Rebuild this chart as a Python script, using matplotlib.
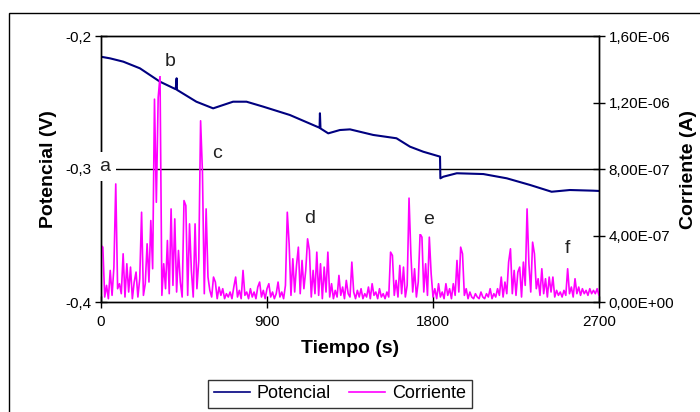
import matplotlib
matplotlib.use("Agg")
import matplotlib.pyplot as plt
from matplotlib.patches import Rectangle
from matplotlib.ticker import FixedLocator, FixedFormatter
from matplotlib.lines import Line2D

plt.rcParams['font.family'] = ['Liberation Sans', 'DejaVu Sans']

# Potential vs time (s, V)
pot_t = [0, 49, 121, 211, 319, 405, 410, 412, 517, 608, 716, 789, 879, 1024,
         1185, 1187, 1190, 1232, 1295, 1350, 1476, 1602, 1675, 1747, 1838,
         1840, 1856, 1929, 2073, 2200, 2326, 2443, 2542, 2669, 2700]
pot_v = [-0.2156, -0.2168, -0.2193, -0.2243, -0.2343, -0.2400, -0.2318, -0.2405,
         -0.2494, -0.2544, -0.2494, -0.2494, -0.2531, -0.2594,
         -0.2690, -0.2581, -0.2695, -0.2732, -0.2707, -0.2702, -0.2744, -0.2769,
         -0.2832, -0.2870, -0.2907,
         -0.3070, -0.3058, -0.3032, -0.3038, -0.3070, -0.3120, -0.3171, -0.3158,
         -0.3163, -0.3165]

# Current sampled every 10 s from 0 to 2700 s (units of 1e-7 A)
cur_step = 10
cur_e7 = [
    3.4, 3.3, 0.3, 1.0, 0.2, 1.9, 0.4, 2.1, 7.1, 0.8,
    1.1, 0.5, 2.9, 0.3, 2.3, 0.6, 2.1, 0.2, 1.2, 1.8,
    0.3, 1.4, 5.4, 0.4, 1.1, 3.5, 1.2, 4.9, 2.0, 12.2,
    6.0, 12.3, 13.6, 0.4, 2.3, 0.8, 3.7, 0.5, 5.6, 1.0,
    5.0, 0.6, 3.1, 1.2, 0.3, 6.1, 5.8, 0.4, 4.7, 1.9,
    0.3, 4.7, 0.8, 2.5, 10.9, 7.8, 0.5, 5.6, 1.5, 0.7,
    0.3, 1.5, 1.2, 0.2, 0.9, 0.4, 0.8, 0.2, 0.5, 0.3,
    0.6, 0.2, 0.9, 1.5, 0.3, 0.7, 0.2, 1.9, 0.4, 0.6,
    0.2, 0.8, 0.3, 0.6, 0.2, 0.9, 1.2, 0.3, 0.7, 0.2,
    0.8, 1.1, 0.3, 0.6, 0.2, 0.5, 1.2, 0.3, 0.6, 0.2,
    1.0, 5.4, 3.5, 0.4, 2.6, 0.6, 2.2, 3.3, 0.5, 2.5,
    0.8, 1.9, 3.8, 3.1, 0.3, 1.9, 0.5, 3.0, 0.4, 2.3,
    0.2, 2.1, 0.6, 3.0, 0.3, 1.1, 0.2, 0.7, 0.3, 1.6,
    0.4, 0.9, 0.2, 1.3, 0.5, 0.3, 2.4, 0.6, 0.2, 0.7,
    0.3, 0.8, 0.2, 0.5, 0.3, 0.9, 0.2, 1.1, 0.4, 0.6,
    0.2, 0.8, 0.3, 0.5, 0.2, 0.6, 0.3, 3.0, 2.8, 0.4,
    1.3, 0.3, 2.2, 0.5, 2.1, 0.3, 1.0, 6.25, 2.9, 0.6,
    2.0, 0.3, 1.2, 4.1, 3.9, 0.6, 2.3, 0.4, 3.9, 1.7,
    0.3, 0.8, 0.2, 1.1, 0.3, 0.6, 0.2, 1.1, 0.4, 0.8,
    0.2, 1.1, 0.4, 2.5, 0.6, 3.3, 2.9, 0.4, 0.8, 0.2,
    0.6, 0.3, 0.2, 0.5, 0.3, 0.2, 0.6, 0.3, 0.2, 0.5,
    0.3, 0.8, 0.2, 0.5, 0.3, 0.8, 0.4, 1.5, 0.3, 1.2,
    0.5, 2.4, 3.2, 0.5, 1.9, 0.4, 1.8, 2.1, 0.3, 2.4,
    1.0, 5.6, 2.3, 0.6, 3.6, 2.9, 0.8, 1.4, 0.4, 2.0,
    0.5, 1.4, 0.3, 1.5, 0.6, 1.5, 0.3, 0.7, 0.4, 0.6,
    0.3, 0.7, 0.4, 2.0, 0.5, 0.9, 0.3, 1.4, 0.5, 0.9,
    0.4, 0.8, 0.5, 0.7, 0.4, 0.8, 0.5, 0.7, 0.5, 0.8,
    0.4,
]
cur_t = [i * cur_step for i in range(len(cur_e7))]
cur_a = [v * 1e-7 for v in cur_e7]

# Axis ticks and labels
x_ticks = [0, 900, 1800, 2700]
x_labels = ['0', '900', '1800', '2700']
v_ticks = [-0.4, -0.3, -0.2]
v_labels = ['-0,4', '-0,3', '-0,2']
i_ticks = [0, 4e-7, 8e-7, 1.2e-6, 1.6e-6]
i_labels = ['0,00E+00', '4,00E-07', '8,00E-07', '1,20E-06', '1,60E-06']

# Event markers (time, potential)
mark_names = ['a', 'b', 'c', 'd', 'e', 'f']
mark_t = [22, 374, 627, 1133, 1775, 2528]
mark_v = [-0.2983, -0.2193, -0.2882, -0.3371, -0.3383, -0.3596]

NAVY = '#000080'
MAGENTA = '#FF00FF'

fig = plt.figure(figsize=(7.0, 4.12), dpi=100)
fig.patches.append(Rectangle((9 / 700, -0.05), 1.1, 1 - 13 / 412 + 0.05,
                             transform=fig.transFigure, fill=False,
                             edgecolor='black', linewidth=1.0))

ax = fig.add_axes([101 / 700, 1 - 302 / 412, 498 / 700, 266 / 412])
ax.set_xlim(0, 2700)
ax.set_ylim(-0.4, -0.2)
ax.axhline(-0.3, color='black', linewidth=1.0, zorder=1)
ax.plot(pot_t, pot_v, color=NAVY, linewidth=1.5, zorder=2)

ax2 = ax.twinx()
ax2.set_ylim(0, 1.6e-6)
ax2.plot(cur_t, cur_a, color=MAGENTA, linewidth=1.2, zorder=2)

for s in list(ax.spines.values()) + list(ax2.spines.values()):
    s.set_linewidth(1.0)
    s.set_color('black')

ax.xaxis.set_major_locator(FixedLocator(x_ticks))
ax.xaxis.set_major_formatter(FixedFormatter(x_labels))
ax.yaxis.set_major_locator(FixedLocator(v_ticks))
ax.yaxis.set_major_formatter(FixedFormatter(v_labels))
ax2.yaxis.set_major_locator(FixedLocator(i_ticks))
ax2.yaxis.set_major_formatter(FixedFormatter(i_labels))

ax.tick_params(axis='both', direction='inout', length=8, width=1.0,
               labelsize=11, pad=3)
ax2.tick_params(axis='y', direction='inout', length=8, width=1.0,
                labelsize=11, pad=3)
ax.tick_params(axis='x', pad=5)

ax.set_xlabel('Tiempo (s)', fontsize=14, fontweight='bold', labelpad=8)
ax.set_ylabel('Potencial (V)', fontsize=14, fontweight='bold', labelpad=6)
ax2.set_ylabel('Corriente (A)', fontsize=14, fontweight='bold', labelpad=4)

for name, t, v in zip(mark_names, mark_t, mark_v):
    ax2.text(t, v, name, transform=ax.transData, fontsize=14,
             ha='center', va='center', color='#222222', zorder=5,
             bbox=dict(boxstyle='square,pad=0.3', facecolor='white',
                       edgecolor='none'))

handles = [Line2D([], [], color=NAVY, linewidth=1.2),
           Line2D([], [], color=MAGENTA, linewidth=1.2)]
leg = fig.legend(handles, ['Potencial', 'Corriente'], loc='upper center',
                 bbox_to_anchor=(340 / 700, 1 - 380 / 412), ncol=2,
                 fontsize=13, frameon=True, fancybox=False, borderpad=0.3,
                 handlelength=2.0, handletextpad=0.4, columnspacing=1.0,
                 borderaxespad=0)
leg.get_frame().set_edgecolor('black')
leg.get_frame().set_linewidth(1.0)

fig.savefig('out.png', dpi=100)
